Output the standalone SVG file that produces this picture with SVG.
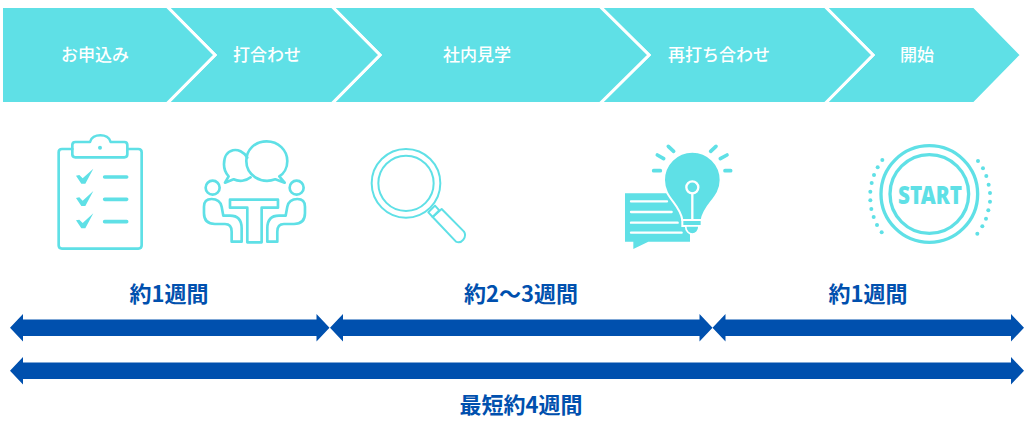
<svg xmlns="http://www.w3.org/2000/svg" width="1024" height="422" viewBox="0 0 1024 422">
<style>
.chev{fill:#5fe0e6;stroke:#fff;stroke-width:3}
.step{font-family:"Noto Sans CJK JP","Noto Sans",sans-serif;font-size:17px;font-weight:500;fill:#fff;text-anchor:middle}
.dur{font-family:"Noto Sans CJK JP","Noto Sans",sans-serif;font-size:22px;font-weight:700;fill:#0050ae;text-anchor:middle}
.bar{fill:#0050ae}
.ln{fill:none;stroke:#5fe0e6;stroke-width:8;stroke-linejoin:round;stroke-linecap:round}
.thin{fill:none;stroke:#5fe0e6;stroke-width:6;stroke-linejoin:round;stroke-linecap:round}
.tk{fill:none;stroke:#5fe0e6;stroke-width:11;stroke-linecap:round}
.sol{fill:#5fe0e6}
.w{fill:none;stroke:#fff;stroke-width:7;stroke-linecap:round}
</style>
<rect width="1024" height="422" fill="#fff"/>
<g id="step5"><polygon class="chev" points="825,6.5 974,6.5 1021.5,55 974,103.5 825,103.5 873,55"/><text class="step" x="917" y="61">開始</text></g>
<g id="step4"><polygon class="chev" points="600,6.5 825,6.5 873,55 825,103.5 600,103.5 649,55"/><text class="step" x="719" y="61">再打ち合わせ</text></g>
<g id="step3"><polygon class="chev" points="332,6.5 600,6.5 649,55 600,103.5 332,103.5 380,55"/><text class="step" x="477" y="61">社内見学</text></g>
<g id="step2"><polygon class="chev" points="167,6.5 332,6.5 380,55 332,103.5 167,103.5 215,55"/><text class="step" x="267" y="61">打合わせ</text></g>
<g id="step1"><polygon class="chev" points="1.5,6.5 167,6.5 215,55 167,103.5 1.5,103.5"/><text class="step" x="95" y="61">お申込み</text></g>

<g id="icon-clipboard" transform="translate(40 125) scale(.3333)">
<path class="ln" d="M97,72H66Q56,72 56,82V361Q56,371 66,371H295Q305,371 305,361V82Q305,72 295,72H262"/>
<path class="ln" d="M97,60Q97,51 106,51H150C156,24 206,24 212,51H253Q262,51 262,60V88Q262,97 253,97H106Q97,97 97,88Z"/>
<circle class="sol" cx="180" cy="68" r="6"/>
<g id="checks">
<path class="sol" d="M108,152L118,150L128,160L160,131L136,176L124,176Z"/>
<path class="sol" d="M108,219L118,217L128,227L160,198L136,243L124,243Z"/>
<path class="sol" d="M108,286L118,284L128,294L160,265L136,310L124,310Z"/>
</g>
<path class="tk" d="M194,156H260M194,223H260M194,290H260"/>
</g>

<g id="icon-meeting" transform="translate(40 125) scale(.3333)">
<path class="ln" d="M622,98C600,62 552,68 552,118C552,134 558,146 566,154L555,173L581,163C596,170 618,169 632,157"/>
<path class="ln" d="M619,108C619,74 645,49 680,49C715,49 742,76 742,108C742,128 732,146 718,154L734,173L706,163C662,178 619,150 619,108Z"/>
<circle class="ln" cx="518" cy="188" r="21"/>
<circle class="ln" cx="770" cy="188" r="21"/>
<path class="ln" d="M570,224H714V248H665V352H622V248H570Z"/>
<path class="ln" d="M492,245Q492,222 515,222Q540,222 545,245L550,272H570Q605,272 605,310V350H575V320Q575,297 555,297H525Q492,297 492,265Z"/>
<path class="ln" d="M795,245Q795,222 772,222Q747,222 742,245L737,272H717Q682,272 682,310V350H712V320Q712,297 732,297H762Q795,297 795,265Z"/>
</g>

<g id="icon-magnifier" transform="translate(360 135) scale(.3333)">
<circle class="thin" cx="138" cy="145" r="103"/>
<circle class="thin" cx="138" cy="145" r="83"/>
<path class="thin" d="M205,232L225,212L238,226L218,246Z"/>
<path class="thin" d="M218,246L245,222L312,290C322,305 305,328 288,320Z"/>
</g>

<g id="icon-idea" transform="translate(615 135) scale(.3333)">
<path class="sol" d="M30,175H165L225,290V320H100L55,342V320H30Z"/>
<path class="sol" stroke="#fff" stroke-width="6" d="M202,255C195,205 147,190 147,135A85,85 0 0 1 317,135C317,190 268,205 260,255Z"/>
<path class="sol" stroke="#fff" stroke-width="6" d="M202,255H260V273H202Z"/>
<path class="sol" stroke="#fff" stroke-width="5" d="M212,273H252C252,305 212,305 212,273Z"/>
<circle class="w" cx="232" cy="157" r="18"/>
<path class="w" d="M232,176V252"/>
<path class="w" stroke-linecap="butt" d="M48,199H156M48,231H170M48,263H188M48,293H200"/>
<path class="tk" d="M116,107H136M127,60L146,71M160,34L176,49M330,107H347M336,60L316,71M303,34L287,49"/>
</g>

<g id="icon-start" transform="translate(860 135) scale(.3333)">
<circle fill="none" stroke="#5fe0e6" stroke-width="10" cx="208" cy="177" r="145"/>
<circle fill="none" stroke="#5fe0e6" stroke-width="10" cx="208" cy="177" r="118"/>
<g class="sol"><circle cx="67" cy="75" r="6"/><circle cx="53" cy="97" r="6"/><circle cx="42" cy="120" r="6"/><circle cx="35" cy="144" r="6"/><circle cx="31" cy="170" r="6"/><circle cx="31" cy="196" r="6"/><circle cx="34" cy="222" r="6"/><circle cx="41" cy="246" r="6"/><circle cx="51" cy="270" r="6"/><circle cx="65" cy="292" r="6"/><circle cx="354" cy="78" r="6"/><circle cx="369" cy="100" r="6"/><circle cx="379" cy="123" r="6"/><circle cx="386" cy="149" r="6"/><circle cx="390" cy="174" r="6"/><circle cx="390" cy="200" r="6"/><circle cx="385" cy="226" r="6"/><circle cx="378" cy="251" r="6"/><circle cx="367" cy="274" r="6"/><circle cx="352" cy="296" r="6"/></g>
<text x="210" y="206" font-family="'Noto Sans','Open Sans',sans-serif" font-size="72" font-weight="900" fill="#5fe0e6" text-anchor="middle" textLength="192" lengthAdjust="spacingAndGlyphs">START</text>
</g>

<g id="connectors">
<polygon class="bar" points="10,327.7 23,314 23,319.5 316.5,319.5 316.5,314 329.5,327.7 316.5,341.5 316.5,336 23,336 23,341.5"/>
<polygon class="bar" points="330,327.7 343,314 343,319.5 699.5,319.5 699.5,314 712.5,327.7 699.5,341.5 699.5,336 343,336 343,341.5"/>
<polygon class="bar" points="712.5,327.7 725.5,314 725.5,319.5 1011,319.5 1011,314 1024,327.7 1011,341.5 1011,336 725.5,336 725.5,341.5"/>
<polygon class="bar" points="10,370.7 23,357 23,362.5 1011,362.5 1011,357 1024,370.7 1011,384.5 1011,379 23,379 23,384.5"/>
</g>

<g id="labels">
<text class="dur" x="169" y="302">約1週間</text>
<text class="dur" x="521" y="302">約2～3週間</text>
<text class="dur" x="868" y="302">約1週間</text>
<text class="dur" x="521" y="413">最短約4週間</text>
</g>
</svg>
